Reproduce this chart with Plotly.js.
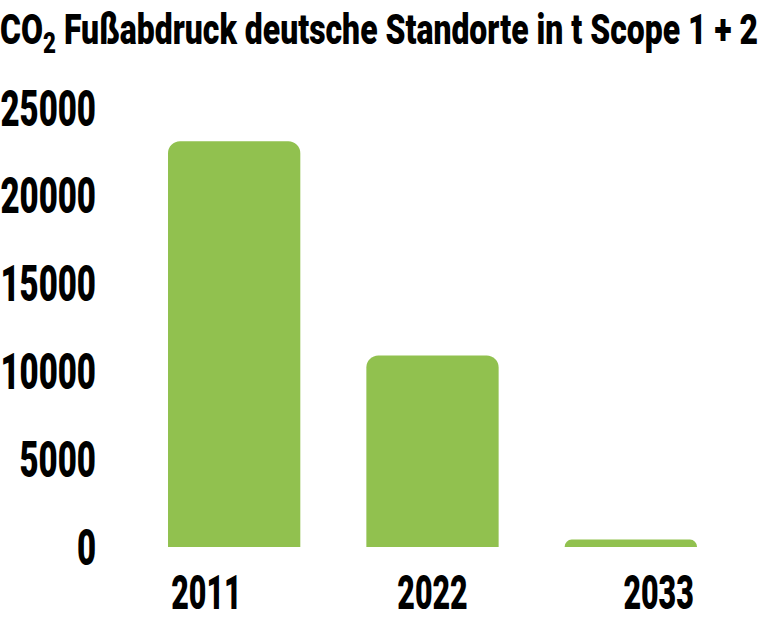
<!DOCTYPE html>
<html>
<head>
<meta charset="utf-8">
<script src="https://cdn.plot.ly/plotly-3.0.1.min.js"></script>
<style>
  html, body { margin: 0; padding: 0; background: #fff; }
  #grafico { width: 768px; height: 629px; }
</style>
</head>
<body>
<div id="grafico"></div>
<script>
// daten
const jahre = ['2011', '2022', '2033'];
const co2Tonnen = [23100, 10900, 420];
const yTicks = [0, 5000, 10000, 15000, 20000, 25000];

const schrift = 'Roboto, Liberation Sans, sans-serif';
const gruen = '#91c14f';

// x-Beschriftung etwas auseinandergezogen (wie im Original)
const idx = jahre.map((j, i) => i);
const labelPos = idx.map(i => 1 + (i - 1) * 1.14);

const trace = {
	type: 'bar',
	x: idx,
	y: co2Tonnen,
	marker: { color: gruen, line: { width: 0 } },
	hoverinfo: 'x+y'
};

const font = (size) => ({ family: schrift, size: size, color: '#000', weight: 900 });

const layout = {
	width: 768,
	height: 629,
	margin: { l: 135, r: 38, t: 108, b: 82 },
	paper_bgcolor: '#ffffff',
	plot_bgcolor: '#ffffff',
	showlegend: false,
	bargap: 0.333,
	barcornerradius: 12,
	title: {
		text: 'CO<sub>2</sub> Fußabdruck deutsche Standorte in t Scope 1 + 2',
		font: font(43),
		x: 0,
		xref: 'container',
		xanchor: 'left',
		y: 1 - 29 / 629,
		yref: 'container',
		yanchor: 'middle'
	},
	xaxis: {
		type: 'linear',
		range: [-0.5, 2.5],
		tickmode: 'array',
		tickvals: labelPos,
		ticktext: jahre,
		showgrid: false,
		zeroline: false,
		showline: false,
		ticks: '',
		ticklabelstandoff: 12,
		tickfont: font(49)
	},
	yaxis: {
		range: [0, 25000],
		tickmode: 'array',
		tickvals: yTicks,
		ticktext: yTicks.map(String),
		showgrid: false,
		zeroline: false,
		showline: false,
		ticks: '',
		ticklabelstandoff: 38,
		tickfont: font(50)
	}
};

// schmale (condensed) Schrift nachbilden: Glyphen horizontal stauchen
function stauchen(sel, faktor) {
	document.querySelectorAll(sel).forEach(t => {
		const w = t.getComputedTextLength();
		t.setAttribute('textLength', (w * faktor).toFixed(1));
		t.setAttribute('lengthAdjust', 'spacingAndGlyphs');
	});
}

Plotly.newPlot('grafico', [trace], layout, { displayModeBar: false, staticPlot: true }).then(() => {
	stauchen('#grafico .ytick text', 0.66);
	stauchen('#grafico .xtick text', 0.62);
	document.querySelectorAll('#grafico .gtitle').forEach(t => {
		t.setAttribute('textLength', '758');
		t.setAttribute('lengthAdjust', 'spacingAndGlyphs');
	});
});
</script>
</body>
</html>
